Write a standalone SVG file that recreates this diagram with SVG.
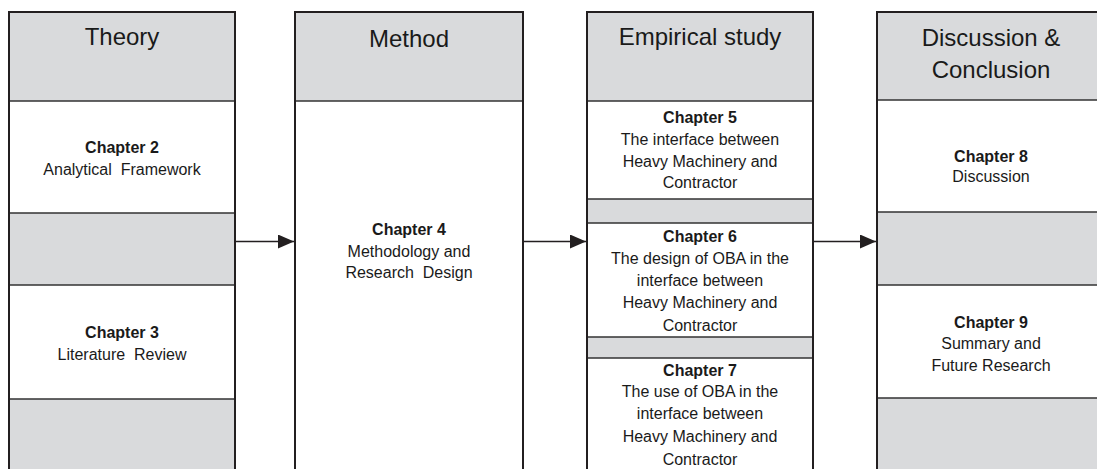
<svg xmlns="http://www.w3.org/2000/svg" width="1097" height="469" viewBox="0 0 1097 469">
<defs>
<style>
.g{fill:#d9dadc}
.w{fill:#ffffff}
.div{stroke:#333;stroke-width:1.5;fill:none}
.out{stroke:#231f20;stroke-width:2;fill:none}
.h{font-family:"Liberation Sans",Arial,sans-serif;font-size:24px;fill:#1a1a1a;text-anchor:middle}
.b{font-family:"Liberation Sans",Arial,sans-serif;font-size:16px;font-weight:bold;fill:#1a1a1a;text-anchor:middle}
.t{font-family:"Liberation Sans",Arial,sans-serif;font-size:16px;fill:#1a1a1a;text-anchor:middle}
.conn{stroke:#231f20;stroke-width:1.6;fill:none}
</style>
<marker id="ah" markerWidth="16" markerHeight="14" refX="16" refY="7" orient="auto" markerUnits="userSpaceOnUse">
<path d="M0,0 L16,7 L0,14 Z" fill="#231f20"/>
</marker>
</defs>
<rect width="1097" height="469" fill="#ffffff"/>

<g id="theory">
<rect class="g" x="9" y="12" width="226" height="89"/>
<rect class="w" x="9" y="101" width="226" height="112"/>
<rect class="g" x="9" y="213" width="226" height="72"/>
<rect class="w" x="9" y="285" width="226" height="114"/>
<rect class="g" x="9" y="399" width="226" height="80"/>
<path class="div" d="M9,101H235M9,213H235M9,285H235M9,399H235"/>
<rect class="out" x="9" y="12" width="226" height="470"/>
<text class="h" x="122" y="45">Theory</text>
<text class="b" x="122" y="153">Chapter 2</text>
<text class="t" x="122" y="175" xml:space="preserve">Analytical  Framework</text>
<text class="b" x="122" y="338">Chapter 3</text>
<text class="t" x="122" y="360" xml:space="preserve">Literature  Review</text>
</g>

<g id="method">
<rect class="g" x="295" y="12" width="228" height="89"/>
<rect class="w" x="295" y="101" width="228" height="380"/>
<path class="div" d="M295,101H523"/>
<rect class="out" x="295" y="12" width="228" height="470"/>
<text class="h" x="409" y="47">Method</text>
<text class="b" x="409" y="235">Chapter 4</text>
<text class="t" x="409" y="257">Methodology and</text>
<text class="t" x="409" y="278" xml:space="preserve">Research  Design</text>
</g>

<g id="empirical">
<rect class="g" x="587" y="12" width="226" height="89"/>
<rect class="w" x="587" y="101" width="226" height="98"/>
<rect class="g" x="587" y="199" width="226" height="24"/>
<rect class="w" x="587" y="223" width="226" height="114"/>
<rect class="g" x="587" y="337" width="226" height="21"/>
<rect class="w" x="587" y="358" width="226" height="123"/>
<path class="div" d="M587,101H813M587,199H813M587,223H813M587,337H813M587,358H813"/>
<rect class="out" x="587" y="12" width="226" height="470"/>
<text class="h" x="700" y="45">Empirical study</text>
<text class="b" x="700" y="123">Chapter 5</text>
<text class="t" x="700" y="145">The interface between</text>
<text class="t" x="700" y="167">Heavy Machinery and</text>
<text class="t" x="700" y="188">Contractor</text>
<text class="b" x="700" y="242">Chapter 6</text>
<text class="t" x="700" y="264">The design of OBA in the</text>
<text class="t" x="700" y="286">interface between</text>
<text class="t" x="700" y="308">Heavy Machinery and</text>
<text class="t" x="700" y="331">Contractor</text>
<text class="b" x="700" y="376">Chapter 7</text>
<text class="t" x="700" y="397">The use of OBA in the</text>
<text class="t" x="700" y="419">interface between</text>
<text class="t" x="700" y="442">Heavy Machinery and</text>
<text class="t" x="700" y="465">Contractor</text>
</g>

<g id="discussion">
<rect class="g" x="877" y="12" width="230" height="88"/>
<rect class="w" x="877" y="100" width="230" height="112"/>
<rect class="g" x="877" y="212" width="230" height="73"/>
<rect class="w" x="877" y="285" width="230" height="113"/>
<rect class="g" x="877" y="398" width="230" height="83"/>
<path class="div" d="M877,100H1107M877,212H1107M877,285H1107M877,398H1107"/>
<rect class="out" x="877" y="12" width="230" height="470"/>
<text class="h" x="991" y="46">Discussion &amp;</text>
<text class="h" x="991" y="78">Conclusion</text>
<text class="b" x="991" y="162">Chapter 8</text>
<text class="t" x="991" y="182">Discussion</text>
<text class="b" x="991" y="328">Chapter 9</text>
<text class="t" x="991" y="349">Summary and</text>
<text class="t" x="991" y="371">Future Research</text>
</g>

<g id="connectors">
<line class="conn" x1="236" y1="241.5" x2="294" y2="241.5" marker-end="url(#ah)"/>
<line class="conn" x1="524" y1="241.5" x2="586" y2="241.5" marker-end="url(#ah)"/>
<line class="conn" x1="814" y1="241.5" x2="876" y2="241.5" marker-end="url(#ah)"/>
</g>
</svg>
